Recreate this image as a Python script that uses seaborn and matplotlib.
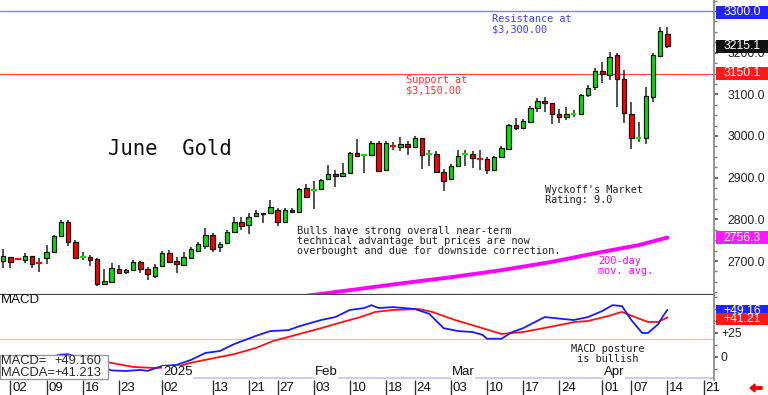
import numpy as np
import pandas as pd
import matplotlib
matplotlib.use("Agg")
import matplotlib.pyplot as plt
import matplotlib.transforms as mtransforms
from matplotlib.patches import Rectangle
from matplotlib.ticker import MultipleLocator
import seaborn as sns

# ---- daily June gold candles, Nov 29 2024 .. Apr 14 2025 ----
opens = [2700, 2710, 2705.5, 2702, 2712, 2695.5, 2707, 2722, 2760, 2794,
         2746, 2709, 2710, 2705, 2645, 2650, 2681, 2674, 2678, 2698,
         2681, 2664, 2688, 2719, 2700, 2690, 2707, 2724, 2735, 2762,
         2734, 2743, 2770, 2794, 2786, 2808, 2815, 2815, 2822, 2794,
         2822, 2818, 2875, 2870, 2873, 2897, 2909, 2904, 2911, 2959,
         2954, 2954, 2983, 2918, 2976.5, 2974, 2981, 2974, 2995, 2957,
         2957, 2914, 2897, 2928, 2957, 2957, 2945.5, 2945, 2918, 2950,
         2969, 3026, 3019, 3034, 3067, 3084, 3079, 3053, 3045, 3053,
         3053, 3098, 3118, 3156, 3146, 3194, 3137, 3053, 2995, 2995,
         3094, 3192, 3245]
highs = [2729, 2710, 2707, 2719, 2712, 2707, 2738, 2762, 2798, 2798,
         2750, 2722, 2714, 2707, 2681, 2695, 2690, 2681, 2702, 2700,
         2686, 2693, 2724, 2726, 2710, 2722, 2734, 2746, 2780, 2767,
         2746, 2774, 2806, 2806, 2815, 2822, 2815, 2846, 2827, 2827,
         2827, 2875, 2885, 2892, 2897, 2930, 2918, 2935, 2962, 2993,
         2955, 2988, 2988, 2988, 2985, 2998, 2988, 3000, 2995, 2966,
         2964, 2921, 2933, 2966, 2966, 2964, 2966, 2950, 2952, 2976,
         3030, 3043, 3040, 3072, 3091, 3094, 3080, 3064, 3070, 3062,
         3101, 3122, 3163, 3178, 3202, 3199, 3158, 3082, 3034, 3118,
         3199, 3262, 3262]
lows = [2683, 2683, 2703, 2695, 2683, 2674, 2693, 2720, 2758, 2736,
        2705, 2702, 2688, 2640, 2642, 2647, 2669, 2669, 2676, 2671,
        2654, 2659, 2686, 2695, 2671, 2690, 2705, 2722, 2730, 2722,
        2722, 2741, 2767, 2774, 2765, 2806, 2791, 2815, 2784, 2791,
        2815, 2815, 2851, 2825, 2870, 2894, 2878, 2902, 2909, 2950,
        2911, 2952, 2914, 2916, 2966, 2964, 2954, 2974, 2921, 2928,
        2911, 2868, 2894, 2926, 2928, 2923, 2918, 2909, 2916, 2947,
        2966, 3014, 3016, 3031, 3058, 3058, 3028, 3031, 3038, 3045,
        3050, 3094, 3110, 3127, 3134, 3070, 3031, 2969, 2986, 2981,
        3082, 3190, 3211]
closes = [2712, 2698, 2704.5, 2712, 2693, 2694.5, 2722, 2760, 2794, 2746,
          2707, 2710, 2702, 2645, 2652, 2683, 2671, 2678, 2698, 2681,
          2669, 2686, 2719, 2698, 2693, 2710, 2729, 2741, 2763, 2729,
          2741, 2770, 2794, 2784, 2806, 2815, 2812, 2830, 2794, 2822,
          2818, 2873, 2854, 2871, 2894, 2909, 2904, 2911, 2959, 2952,
          2955, 2983, 2916, 2983, 2975.5, 2981, 2974, 2995, 2954, 2958,
          2914, 2892, 2928, 2952, 2958, 2947, 2944.5, 2918, 2950, 2971,
          3026, 3019, 3036, 3067, 3084, 3079, 3053, 3045, 3053, 3054,
          3098, 3115, 3156, 3149, 3190, 3137, 3055, 2995, 2996, 3096,
          3194, 3252, 3215.1]

# 200-day moving average (sparse readings)
ma_idx = [40, 48, 55, 62, 69, 76, 83, 88, 92]
ma_val = [2612, 2630, 2646, 2661, 2678, 2698, 2722, 2738, 2756.3]

# MACD (blue) and its average (red), sparse readings
macd_idx = [0, 3, 6, 8, 9, 11, 13, 15, 17, 19, 20, 22, 24, 26, 28, 30, 32, 35, 37, 39.5,
            41, 44, 46, 48, 50, 51, 52, 54, 57, 59, 61, 63, 65, 66.4, 67, 69, 70.5, 72,
            75, 79, 81, 83, 84.4, 85.7, 87, 88.5, 89.3, 90.7, 91.4, 92]
macd_val = [-4, -3, -1, 2.5, 2.8, -2, -9, -14, -14.6, -13.5, -14.5, -9.4, -8.3, -3.1, 4.2,
            6.2, 13.5, 22, 27, 28, 32, 38.5, 41.6, 49, 51, 54, 51, 52, 50, 45, 30, 27, 26,
            23, 19, 19, 26, 30, 41.6, 38.5, 41.6, 48, 54, 53, 38.5, 25, 25, 34, 42.7, 49.16]
sig_idx = [0, 5, 9, 12, 15, 18, 21, 24, 26, 30, 32, 35, 37.4, 40, 44, 47, 49.5, 51.5, 54,
           57.5, 59.4, 62.6, 66.4, 69, 72, 75.5, 79.2, 81, 83.8, 85.7, 87.5, 89.3, 90.7, 92]
sig_val = [-1, 0, -1, -3, -6.2, -10.4, -11.5, -10.4, -6, 0, 3, 9.4, 16.7, 21.9, 30, 36.5,
           41.6, 46.9, 49, 50, 47, 38.5, 30, 24, 26, 31, 36.5, 37.5, 42.7, 47, 41.6, 36.5,
           36.5, 41.21]

date_idx = [1, 6, 11, 16, 22, 29, 34, 38, 43, 48, 53, 57, 62, 67, 72, 77, 83, 87, 92, 97]
date_lbl = ['02', '09', '16', '23', '02', '13', '21', '27', '03', '10', '18', '24',
            '03', '10', '17', '24', '01', '07', '14', '21']
month_idx = [22, 43, 62, 83]
month_lbl = ['2025', 'Feb', 'Mar', 'Apr']

sns.set_theme(style="white")
plt.rcParams['font.family'] = ['Liberation Sans', 'DejaVu Sans']
MONO = 'DejaVu Sans Mono'

W, H = 768, 395
fig = plt.figure(figsize=(W / 100, H / 100), dpi=100)


def add_ax(x0, y0, x1, y1):
    return fig.add_axes([x0 / W, 1 - y1 / H, (x1 - x0) / W, (y1 - y0) / H])


def ftext(x, y, s, **kw):
    fig.text(x / W, 1 - y / H, s, **kw)


ax = add_ax(0, 0, 714, 295)
axm = add_ax(0, 295, 714, 380)
axd = add_ax(0, 380, 714, 395)
XL = (-0.45, 98.45)

# ---- price panel ----
o = np.array(opens); h = np.array(highs); l = np.array(lows); c = np.array(closes)
x = np.arange(len(o))
up = c >= o
body = np.abs(c - o)
doji = body < 2
ax.vlines(x, l, h, color='#222222', lw=1.1, zorder=2)
cols = np.where(up, '#00e600', '#ff0000')
nd = ~doji
ax.bar(x[nd], body[nd], bottom=np.minimum(o, c)[nd], width=0.62, color=cols[nd],
       edgecolor='#111111', linewidth=0.9, zorder=3)
ax.hlines((o[doji] + c[doji]) / 2, x[doji] - 0.4, x[doji] + 0.4, colors=cols[doji], lw=1.6, zorder=3)

ma = pd.DataFrame({'idx': ma_idx, 'ma': ma_val})
sns.lineplot(data=ma, x='idx', y='ma', ax=ax, color='#ff00ff', lw=2.8, zorder=2)
ax.axhline(3300, color='#7f7fff', lw=1, zorder=1)
ax.axhline(3150, color='#ff4a4a', lw=0.9, zorder=1)

ax.set_xlim(*XL)
ax.set_ylim(2618.4, 3326.4)
ax.set_xlabel(''); ax.set_ylabel('')
ax.set_xticks([])
ax.yaxis.tick_right()
ax.set_yticks([2700, 2800, 2900, 3000, 3100, 3200])
ax.set_yticklabels(['%.1f' % v for v in [2700, 2800, 2900, 3000, 3100, 3200]])
ax.yaxis.set_minor_locator(MultipleLocator(25))
ax.tick_params(axis='y', which='major', direction='out', length=3, pad=7, labelsize=8.7,
               labelcolor='#222222', color='#555555', right=True)
ax.tick_params(axis='y', which='minor', direction='out', length=2, color='#777777', right=True)
for s in ['top', 'left']:
    ax.spines[s].set_visible(False)
ax.spines['right'].set_color('#888888')
ax.spines['bottom'].set_color('#444444')
ax.spines['bottom'].set_linewidth(1.6)


def value_box(axis, val, txt, fc, half):
    tr = mtransforms.blended_transform_factory(axis.transAxes, axis.transData)
    axis.add_patch(Rectangle((1.003, val - half), 0.073, 2 * half, transform=tr,
                             facecolor=fc, edgecolor='none', clip_on=False, zorder=6))
    axis.text(1.0395, val, txt, transform=tr, ha='center', va='center', color='white',
              fontsize=8.7, zorder=7, clip_on=False)


value_box(ax, 3297, '3300.0', '#2222ff', 16)
value_box(ax, 3215.1, '3215.1', '#111111', 15.5)
value_box(ax, 3150.1, '3150.1', '#ff1a1a', 15.5)
value_box(ax, 2756.3, '2756.3', '#ff1aff', 15.5)

# ---- MACD panel ----
md = pd.DataFrame({'idx': macd_idx, 'v': macd_val})
sg = pd.DataFrame({'idx': sig_idx, 'v': sig_val})
axm.axhline(19, color='#ffb0b0', lw=0.9, zorder=1)
sns.lineplot(data=sg, x='idx', y='v', ax=axm, color='#ff1010', lw=1.3, zorder=3)
sns.lineplot(data=md, x='idx', y='v', ax=axm, color='#1a1aff', lw=1.3, zorder=3)
axm.set_xlim(*XL)
axm.set_ylim(-24, 64.6)
axm.set_xlabel(''); axm.set_ylabel('')
axm.set_xticks([])
axm.yaxis.tick_right()
axm.set_yticks([0, 25])
axm.set_yticklabels(['0', '+25'])
axm.yaxis.set_minor_locator(MultipleLocator(12.5))
axm.tick_params(axis='y', which='major', direction='out', length=3, pad=2, labelsize=8.7,
                labelcolor='#222222', color='#555555', right=True)
axm.tick_params(axis='y', which='minor', direction='out', length=2, color='#777777', right=True)
for s in ['top', 'left', 'bottom']:
    axm.spines[s].set_visible(False)
axm.spines['right'].set_color('#888888')
value_box(axm, 47.6, '+49.16', '#2222ff', 6.8)
value_box(axm, 40.0, '+41.21', '#ff1a1a', 6.2)

# month row with lavender rule
trm = mtransforms.blended_transform_factory(axm.transData, axm.transAxes)
axm.plot([month_idx[0], XL[1]], [0.025, 0.025], transform=trm, color='#c4c4f0', lw=1.2,
         zorder=2, clip_on=False)
for mi, ml in zip(month_idx, month_lbl):
    axm.text(mi + 0.15, 0.02, ml, transform=trm, ha='left', va='bottom', fontsize=9.5,
             color='#111111', zorder=4, bbox=dict(facecolor='white', edgecolor='none', pad=0.6))

# ---- date row ----
axd.set_xlim(*XL)
axd.set_ylim(0, 1)
axd.axis('off')
axd.vlines(date_idx, 0, 1, color='#333333', lw=1)
for di, dl in zip(date_idx, date_lbl):
    axd.text(di + 0.25, 0.45, dl, ha='left', va='center', fontsize=9.5, color='#111111')

# ---- annotations ----
ftext(108, 149, 'June  Gold', fontsize=14.8, family=MONO, va='center', color='#111111')
ftext(492, 14, 'Resistance at\n$3,300.00', fontsize=7.4, family=MONO, va='top',
      color='#3f3fff', linespacing=1.05)
ftext(406, 75, 'Support at\n$3,150.00', fontsize=7.4, family=MONO, va='top',
      color='#ff3030', linespacing=1.05)
ftext(545, 185, "Wyckoff's Market\nRating: 9.0", fontsize=7.4, family=MONO, va='top',
      color='#222222', linespacing=1.05)
ftext(297, 226, 'Bulls have strong overall near-term\ntechnical advantage but prices are now\n'
      'overbought and due for downside correction.', fontsize=7.4, family=MONO, va='top',
      color='#222222', linespacing=1.0)
ftext(598, 256, '200-day\nmov. avg.', fontsize=7.4, family=MONO, va='top', color='#ff00ff',
      linespacing=1.05)
ftext(571, 344, 'MACD posture\n is bullish', fontsize=7.4, family=MONO, va='top',
      color='#222222', linespacing=1.05)
ftext(1, 300, 'MACD', fontsize=9.5, va='center', color='#111111')

# MACD readout box
fig.patches.append(Rectangle((0, 1 - 379 / H), 108 / W, 24 / H, transform=fig.transFigure,
                             facecolor='white', edgecolor='#999999', lw=1, zorder=10))
ftext(1, 361, 'MACD=', fontsize=9.3, va='center', zorder=11)
ftext(101, 361, '+49.160', fontsize=9.3, va='center', ha='right', zorder=11)
ftext(1, 373, 'MACDA=', fontsize=9.3, va='center', zorder=11)
ftext(101, 373, '+41.213', fontsize=9.3, va='center', ha='right', zorder=11)

# small red arrow bottom right
fig.add_artist(matplotlib.patches.FancyArrow(762 / W, 1 - 388 / H, -12 / W, 0,
               width=2.5 / H, head_width=8 / H, head_length=5 / W,
               length_includes_head=True, color='#ee0000', transform=fig.transFigure))

fig.savefig('out.png', dpi=100, facecolor='white')
